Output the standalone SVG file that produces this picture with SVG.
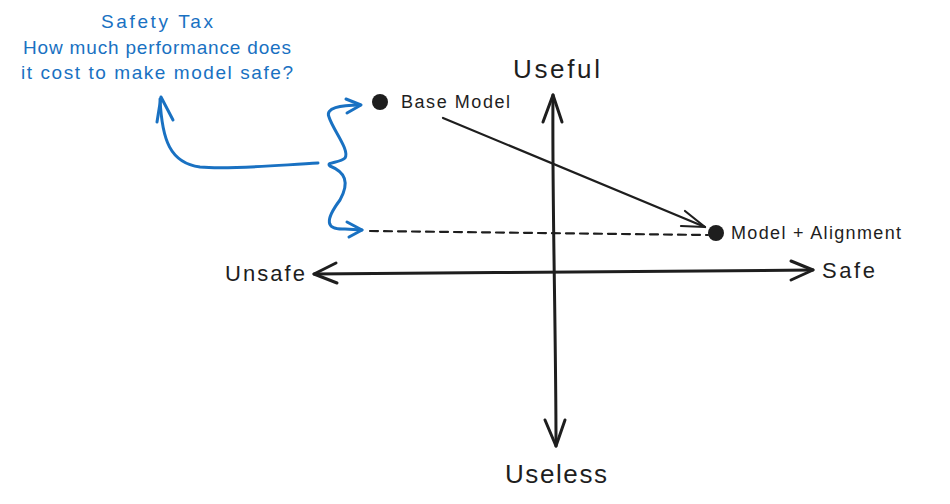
<svg xmlns="http://www.w3.org/2000/svg" width="950" height="504" viewBox="0 0 950 504">
<style>
.t{font-family:"Liberation Sans",Arial,sans-serif;fill:#1e1e1e}
.b{fill:#1971c2}
.ax{stroke:#1e1e1e;stroke-width:3;fill:none;stroke-linecap:round;stroke-linejoin:round}
.ln{stroke:#1e1e1e;stroke-width:2.2;fill:none;stroke-linecap:round;stroke-linejoin:round}
.bl{stroke:#1971c2;stroke-width:3;fill:none;stroke-linecap:round;stroke-linejoin:round}
</style>
<rect width="950" height="504" fill="#ffffff"/>
<g id="title">
<text class="t b" x="157" y="28" font-size="19" text-anchor="middle" textLength="112">Safety Tax</text>
<text class="t b" x="157" y="54" font-size="19" text-anchor="middle" textLength="268">How much performance does</text>
<text class="t b" x="157" y="79" font-size="19" text-anchor="middle" textLength="272">it cost to make model safe?</text>
</g>
<g id="connectors">
<path class="ax" d="M553 95 C552 200 556 330 556 446"/>
<path class="ax" d="M543 122 L553 95 L562 122"/>
<path class="ax" d="M545 420 L556 446 L565 420"/>
<path class="ax" d="M314 274 C480 273 650 271 813 270"/>
<path class="ax" d="M336 263 L314 274 L337 283"/>
<path class="ax" d="M791 261 L813 270 L791 280"/>
<path class="ln" d="M443 118 L705 227"/>
<path class="ln" d="M685 211 L705 227 L681 226"/>
<path class="ln" d="M370 231 L708 235" stroke-dasharray="8 6"/>
<path class="bl" d="M318 163 C280 165 230 170 200 167 C170 163 162 140 160 99"/>
<path class="bl" d="M157 122 L161 97 L173 120"/>
<path class="bl" d="M360 105 C340 105 325 108 329 117 C333 130 350 150 345 158 C340 163 325 162 330 166 C345 172 350 182 340 200 C325 220 325 230 345 229 L362 230"/>
<path class="bl" d="M346 99 L361 105 L347 113"/>
<path class="bl" d="M347 222 L362 230 L349 237"/>
</g>
<g id="base-model">
<circle cx="380" cy="102" r="8" fill="#1e1e1e"/>
<text class="t" x="401" y="108" font-size="18" textLength="109">Base Model</text>
</g>
<g id="model-alignment">
<circle cx="716" cy="233" r="8" fill="#1e1e1e"/>
<text class="t" x="731" y="239" font-size="18" textLength="170">Model + Alignment</text>
</g>
<g id="useful"><text class="t" x="513" y="78" font-size="26" textLength="87">Useful</text></g>
<g id="useless"><text class="t" x="505" y="483" font-size="26" textLength="102">Useless</text></g>
<g id="unsafe"><text class="t" x="225" y="281" font-size="22" textLength="80">Unsafe</text></g>
<g id="safe"><text class="t" x="822" y="278" font-size="22" textLength="53">Safe</text></g>
</svg>
